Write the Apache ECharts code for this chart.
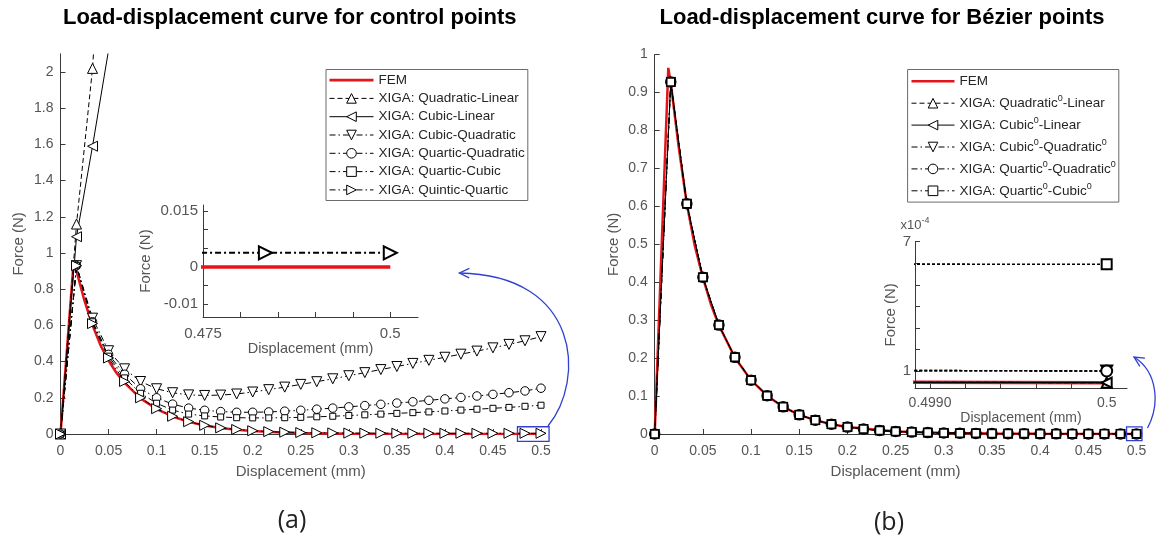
<!DOCTYPE html>
<html><head><meta charset="utf-8">
<script src="https://cdn.jsdelivr.net/npm/echarts@6/dist/echarts.min.js"></script>
<style>html,body{margin:0;padding:0;background:#fff}#c{width:1157px;height:545px}</style>
</head><body><div id="c"></div>
<script>
// ---------------- DATA ----------------
const xPts = [0, 0.01667, 0.03333, 0.05, 0.06667, 0.08333, 0.1, 0.11667, 0.13333, 0.15, 0.16667, 0.18333, 0.2, 0.21667, 0.23333, 0.25, 0.26667, 0.28333, 0.3, 0.31667, 0.33333, 0.35, 0.36667, 0.38333, 0.4, 0.41667, 0.43333, 0.45, 0.46667, 0.48333, 0.5];

// (a) control points
const femAX = [0, 0.0133, 0.0167, 0.025, 0.0333, 0.0417, 0.05, 0.0583, 0.0667, 0.0833, 0.1, 0.1167, 0.1333, 0.15, 0.1667, 0.1833, 0.2, 0.225, 0.25, 0.3, 0.35, 0.4, 0.45, 0.5];
const femAY = [0, 0.925, 0.9, 0.735, 0.6, 0.49, 0.405, 0.337, 0.282, 0.197, 0.138, 0.097, 0.067, 0.047, 0.033, 0.023, 0.016, 0.009, 0.005, 0.0015, 0.0005, 0.0001, 0, 0];
const quadLinA = [0, 1.16, 2.02, 3.4];
const cubicLinA = [0, 1.09, 1.59, 2.12];
const cubicQuadA = [0, 0.93, 0.64, 0.46, 0.36, 0.29, 0.25, 0.228, 0.216, 0.213, 0.215, 0.221, 0.232, 0.245, 0.259, 0.274, 0.289, 0.305, 0.322, 0.339, 0.356, 0.373, 0.39, 0.407, 0.424, 0.441, 0.458, 0.476, 0.495, 0.515, 0.538];
const quarticQuadA = [0, 0.93, 0.62, 0.44, 0.33, 0.25, 0.2, 0.165, 0.143, 0.131, 0.124, 0.12, 0.12, 0.122, 0.126, 0.131, 0.137, 0.143, 0.15, 0.157, 0.164, 0.171, 0.178, 0.186, 0.194, 0.202, 0.21, 0.219, 0.228, 0.238, 0.253];
const quarticCubicA = [0, 0.93, 0.62, 0.43, 0.31, 0.225, 0.17, 0.132, 0.11, 0.1, 0.094, 0.09, 0.089, 0.089, 0.09, 0.092, 0.095, 0.098, 0.102, 0.106, 0.11, 0.114, 0.118, 0.122, 0.127, 0.132, 0.137, 0.142, 0.147, 0.153, 0.159];
const quinticQuarticA = [0, 0.93, 0.61, 0.42, 0.29, 0.2, 0.14, 0.098, 0.068, 0.048, 0.034, 0.025, 0.018, 0.013, 0.01, 0.008, 0.0068, 0.0058, 0.0051, 0.0047, 0.0044, 0.0042, 0.0041, 0.004, 0.0039, 0.0039, 0.0038, 0.0038, 0.0038, 0.0038, 0.0038];

// (b) Bezier points
const femBX = [0, 0.0141, 0.0167, 0.025, 0.0333, 0.0417, 0.05, 0.0583, 0.0667, 0.0833, 0.1, 0.1167, 0.1333, 0.15, 0.1667, 0.1833, 0.2, 0.25, 0.3, 0.35, 0.4, 0.45, 0.5];
const femBY = [0, 0.965, 0.925, 0.755, 0.607, 0.495, 0.412, 0.342, 0.286, 0.201, 0.142, 0.101, 0.0712, 0.0505, 0.0365, 0.0258, 0.0182, 0.0069, 0.0027, 0.0011, 0.0004, 0.00015, 0.000046];
const quadLinB = [0, 0.928, 0.607, 0.413, 0.287, 0.202, 0.142, 0.101, 0.0715, 0.0505, 0.0365, 0.0258, 0.0182, 0.0132, 0.0095, 0.0069, 0.0051, 0.0037, 0.0027, 0.002, 0.0015, 0.0011, 0.0008, 0.0006, 0.00044, 0.00032, 0.00023, 0.00016, 0.00011, 0.00007, 0.000046];
const cubicLinB = [0, 0.928, 0.607, 0.413, 0.287, 0.202, 0.142, 0.101, 0.0715, 0.0505, 0.0365, 0.0258, 0.0182, 0.0132, 0.0095, 0.0069, 0.0051, 0.0037, 0.0027, 0.002, 0.0015, 0.0011, 0.0008, 0.0006, 0.00044, 0.00032, 0.00023, 0.00016, 0.00011, 0.00007, 0.000046];
const cubicQuadB = [0, 0.928, 0.607, 0.413, 0.287, 0.202, 0.142, 0.101, 0.0715, 0.0505, 0.0365, 0.0258, 0.0182, 0.0132, 0.0095, 0.0069, 0.0051, 0.0037, 0.0027, 0.002, 0.0015, 0.0011, 0.00083, 0.00063, 0.00049, 0.00038, 0.0003, 0.00023, 0.00017, 0.00013, 0.0001];
const quarticQuadB = [0, 0.928, 0.607, 0.413, 0.287, 0.202, 0.142, 0.101, 0.0715, 0.0505, 0.0365, 0.0258, 0.0182, 0.0132, 0.0095, 0.0069, 0.0051, 0.0037, 0.0027, 0.002, 0.0015, 0.0011, 0.00083, 0.00063, 0.00049, 0.00038, 0.0003, 0.00023, 0.00017, 0.00013, 0.0001];
const quarticCubicB = [0, 0.928, 0.607, 0.413, 0.287, 0.202, 0.142, 0.101, 0.0715, 0.0505, 0.0365, 0.0258, 0.0182, 0.0132, 0.0095, 0.0069, 0.0051, 0.0037, 0.0027, 0.0021, 0.0017, 0.0014, 0.0012, 0.00103, 0.0009, 0.0008, 0.00072, 0.00067, 0.00063, 0.00061, 0.000595];

// tick values
const mainXTicks = [0, 0.05, 0.1, 0.15, 0.2, 0.25, 0.3, 0.35, 0.4, 0.45, 0.5];
const aYTicks = [0, 0.2, 0.4, 0.6, 0.8, 1, 1.2, 1.4, 1.6, 1.8, 2];
const bYTicks = [0, 0.1, 0.2, 0.3, 0.4, 0.5, 0.6, 0.7, 0.8, 0.9, 1];
const insetAXTicks = [0.475, 0.48, 0.485, 0.49, 0.495, 0.5];
const insetAXLabels = [0.475, 0.5];
const insetAYTicks = [-0.01, -0.005, 0, 0.005, 0.01, 0.015];
const insetAYLabels = [-0.01, 0, 0.015];
const insetBXTicks = [0.499, 0.4992, 0.4994, 0.4996, 0.4998, 0.5];
const insetBXLabels = [0.499, 0.5];
const insetBYTicks = [0.0001, 0.0002, 0.0003, 0.0004, 0.0005, 0.0006, 0.0007];
const insetBYLabels = [0.0001, 0.0007];

// legend names
const namesA = ['FEM', 'XIGA: Quadratic-Linear', 'XIGA: Cubic-Linear', 'XIGA: Cubic-Quadratic', 'XIGA: Quartic-Quadratic', 'XIGA: Quartic-Cubic', 'XIGA: Quintic-Quartic'];
const namesB = ['FEM', 'XIGA: Quadratic^0-Linear', 'XIGA: Cubic^0-Linear', 'XIGA: Cubic^0-Quadratic^0', 'XIGA: Quartic^0-Quadratic^0', 'XIGA: Quartic^0-Cubic^0'];

// annotation anchors (data space of the main grids)
const boxA = [[0.4755, 0.04], [0.5084, -0.041]];
const arrowA = [[0.5073, 0.0442], [0.5464, 0.2983], [0.5411, 0.8785], [0.4151, 0.8895]];
const boxB = [[0.4897, 0.019], [0.5057, -0.0177]];
const arrowB = [[0.5114, 0.0158], [0.5244, 0.0764], [0.5223, 0.1634], [0.4974, 0.2030]];

// ---------------- STYLE ----------------
const F = '"Liberation Sans", Arial, sans-serif';
const AX = '#3a3a3a';
const LBL = '#555';
const RED = '#e3151a';
const BLUE = '#3040d0';
const DASH = [5, 3];
const DASHDOT = [6, 3, 1.5, 3];

const pairs = (xs, ys) => ys.map((y, i) => [xs[i], y]);

function axis(o) {
  return {
    type: 'value', gridIndex: o.grid, min: o.min, max: o.max,
    axisLine: { show: true, onZero: false, lineStyle: { color: AX, width: 1 } },
    axisTick: { show: true, inside: true, length: o.tickLen || 5, customValues: o.ticks, lineStyle: { color: AX } },
    axisLabel: { customValues: o.labels || o.ticks, color: LBL, fontSize: o.fs || 14, fontFamily: F, margin: o.margin || 7, formatter: o.fmt },
    splitLine: { show: false },
    name: o.name, nameLocation: 'middle', nameGap: o.nameGap,
    nameTextStyle: { color: LBL, fontSize: o.nfs || 15, fontFamily: F }
  };
}

function lineSeries(name, xi, data, sym, rot, size, lineType, opts) {
  opts = opts || {};
  return {
    type: 'line', name, xAxisIndex: xi, yAxisIndex: xi, data,
    symbol: sym, symbolSize: size, symbolRotate: rot, showAllSymbol: true,
    lineStyle: { color: '#000', width: opts.lw || 1, type: lineType },
    itemStyle: { color: '#fff', borderColor: '#000', borderWidth: opts.bw || 1 },
    emphasis: { disabled: true }, silent: true, z: opts.z || 3, clip: true
  };
}
function femSeries(name, xi, data, w) {
  return {
    type: 'line', name, xAxisIndex: xi, yAxisIndex: xi, data, symbol: 'none',
    lineStyle: { color: RED, width: w }, itemStyle: { color: RED },
    emphasis: { disabled: true }, silent: true, z: 2, clip: true
  };
}

const femIcon = 'path://M0 0H44V2.6H0Z';

const legendBase = {
  orient: 'vertical', itemWidth: 44, itemHeight: 12, selectedMode: false,
  borderColor: '#6a6a6a', borderWidth: 1, backgroundColor: '#fff',
  itemStyle: { borderWidth: 1 },
  lineStyle: { width: 1 }
};

const option = {
  animation: false,
  backgroundColor: '#fff',
  grid: [
    { left: 60.5, top: 53.9, width: 480.5, height: 380.1, containLabel: false, outerBoundsMode: 'none' },
    { left: 203, top: 205, width: 215, height: 112, containLabel: false, outerBoundsMode: 'none' },
    { left: 654.7, top: 54.6, width: 481.8, height: 379.4, containLabel: false, outerBoundsMode: 'none' },
    { left: 915, top: 241.7, width: 212, height: 146.3, containLabel: false, outerBoundsMode: 'none' }
  ],
  xAxis: [
    axis({ grid: 0, min: 0, max: 0.5, ticks: mainXTicks, name: 'Displacement (mm)', nameGap: 30, margin: 10 }),
    axis({ grid: 1, min: 0.475, max: 0.5037, ticks: insetAXTicks, labels: insetAXLabels, name: 'Displacement (mm)', nameGap: 6, margin: 9, fs: 15, nfs: 14.5 }),
    axis({ grid: 2, min: 0, max: 0.5, ticks: mainXTicks, name: 'Displacement (mm)', nameGap: 30, margin: 10 }),
    axis({ grid: 3, min: 0.498915, max: 0.500115, ticks: insetBXTicks, labels: insetBXLabels, name: 'Displacement (mm)', nameGap: 8, margin: 8, fs: 14, nfs: 14,
      fmt: v => Math.abs(v - 0.499) < 1e-9 ? '0.4990' : String(Math.round(v * 10000) / 10000) })
  ],
  yAxis: [
    axis({ grid: 0, min: 0, max: 2.1, ticks: aYTicks, name: 'Force (N)', nameGap: 34 }),
    axis({ grid: 1, min: -0.0134, max: 0.0166, ticks: insetAYTicks, labels: insetAYLabels, name: 'Force (N)', nameGap: 50, margin: 5, fs: 15 }),
    axis({ grid: 2, min: 0, max: 1, ticks: bYTicks, name: 'Force (N)', nameGap: 33 }),
    axis({ grid: 3, min: 0.0000211, max: 0.0007, ticks: insetBYTicks, labels: insetBYLabels, name: 'Force (N)', nameGap: 6, margin: 4, fs: 15,
      fmt: v => String(Math.round(v * 10000)) })
  ],
  legend: [
    Object.assign({}, legendBase, {
      left: 326, top: 69.5, padding: [3.6, 3, 3.6, 3], itemGap: 4.3,
      textStyle: { fontSize: 13.5, lineHeight: 14, color: '#262626', fontFamily: F },
      data: [{ name: 'FEM', icon: femIcon, itemStyle: { color: RED } }].concat(namesA.slice(1))
    }),
    Object.assign({}, legendBase, {
      left: 907.6, top: 69.5, padding: [2.8, 3, 2.3, 3.4], itemGap: 3.9, itemWidth: 43,
      textStyle: { fontSize: 13.5, lineHeight: 18, color: '#262626', fontFamily: F,
        rich: { s: { fontSize: 9, lineHeight: 8, verticalAlign: 'top', color: '#262626', fontFamily: F } } },
      formatter: n => n.replace(/\^0/g, '{s|0}'),
      data: [{ name: 'FEM', icon: femIcon, itemStyle: { color: RED } }].concat(namesB.slice(1))
    })
  ],
  series: [
    // (a) main
    femSeries('FEM', 0, pairs(femAX, femAY), 2.5),
    lineSeries(namesA[1], 0, pairs(xPts, quadLinA), 'triangle', 0, 10, DASH),
    lineSeries(namesA[2], 0, pairs(xPts, cubicLinA), 'triangle', 90, 10, 'solid'),
    lineSeries(namesA[3], 0, pairs(xPts, cubicQuadA), 'triangle', 180, 10, DASHDOT),
    lineSeries(namesA[4], 0, pairs(xPts, quarticQuadA), 'circle', 0, 8.5, DASHDOT),
    lineSeries(namesA[5], 0, pairs(xPts, quarticCubicA), 'rect', 0, 6, DASHDOT),
    lineSeries(namesA[6], 0, pairs(xPts, quinticQuarticA), 'triangle', -90, 10, DASHDOT),
    // (a) inset
    femSeries('insetA FEM', 1, pairs(femAX, femAY), 3.5),
    lineSeries('insetA quintic', 1, pairs(xPts, quinticQuarticA), 'triangle', -90, 13, [6, 3, 2, 3], { lw: 2, bw: 2 }),
    // (b) main
    femSeries('FEM', 2, pairs(femBX, femBY), 2.5),
    lineSeries(namesB[1], 2, pairs(xPts, quadLinB), 'triangle', 0, 9, DASH),
    lineSeries(namesB[2], 2, pairs(xPts, cubicLinB), 'triangle', 90, 9, 'solid'),
    lineSeries(namesB[3], 2, pairs(xPts, cubicQuadB), 'triangle', 180, 9, DASHDOT),
    lineSeries(namesB[4], 2, pairs(xPts, quarticQuadB), 'circle', 0, 10, DASHDOT, { bw: 1.5 }),
    lineSeries(namesB[5], 2, pairs(xPts, quarticCubicB), 'rect', 0, 8, DASHDOT, { bw: 1.5 }),
    // (b) inset
    femSeries('insetB FEM', 3, pairs(femBX, femBY), 3.5),
    lineSeries('insetB ql', 3, pairs(xPts, quadLinB), 'triangle', 0, 10, DASH, { lw: 1.2, bw: 2 }),
    lineSeries('insetB cl', 3, pairs(xPts, cubicLinB), 'triangle', 90, 10, 'solid', { lw: 1.2, bw: 2 }),
    lineSeries('insetB cq', 3, pairs(xPts, cubicQuadB), 'triangle', 180, 11, [3, 2], { lw: 1.6, bw: 2 }),
    lineSeries('insetB qq', 3, pairs(xPts, quarticQuadB), 'circle', 0, 11, [3, 2], { lw: 1.6, bw: 2 }),
    lineSeries('insetB qc', 3, pairs(xPts, quarticCubicB), 'rect', 0, 10, [3, 2], { lw: 1.6, bw: 2 })
  ]
};

const chart = echarts.init(document.getElementById('c'), null, { renderer: 'canvas' });
chart.setOption(option);

// ---------------- annotations (positioned through the axes) ----------------
function px(gi, p) { return chart.convertToPixel({ xAxisIndex: gi, yAxisIndex: gi }, p); }
function annot(gi, box, arr) {
  const a = px(gi, box[0]), b = px(gi, box[1]);
  const P = arr.map(p => px(gi, p));
  const end = P[3], c2 = P[2];
  const ang = Math.atan2(end[1] - c2[1], end[0] - c2[0]);
  const L = 11, sp = 0.45;
  const h1 = [end[0] - L * Math.cos(ang - sp), end[1] - L * Math.sin(ang - sp)];
  const h2 = [end[0] - L * Math.cos(ang + sp), end[1] - L * Math.sin(ang + sp)];
  return [
    { type: 'rect', z: 50, shape: { x: Math.min(a[0], b[0]), y: Math.min(a[1], b[1]), width: Math.abs(b[0] - a[0]), height: Math.abs(b[1] - a[1]) },
      style: { fill: 'none', stroke: BLUE, lineWidth: 1.3 } },
    { type: 'bezierCurve', z: 50, shape: { x1: P[0][0], y1: P[0][1], cpx1: P[1][0], cpy1: P[1][1], cpx2: P[2][0], cpy2: P[2][1], x2: end[0], y2: end[1] },
      style: { fill: 'none', stroke: BLUE, lineWidth: 1.3 } },
    { type: 'polyline', z: 50, shape: { points: [h1, end, h2] }, style: { fill: 'none', stroke: BLUE, lineWidth: 1.3 } }
  ];
}
const txt = (x, y, text, size, weight, color, family) => ({
  type: 'text', x, y, z: 60,
  style: { text, fontSize: size, fontWeight: weight, fill: color, fontFamily: family || F, align: 'center', verticalAlign: 'middle' }
});
chart.setOption({
  graphic: [].concat(
    annot(0, boxA, arrowA),
    annot(2, boxB, arrowB),
    [
      txt(289.7, 18, 'Load-displacement curve for control points', 22, 'bold', '#000'),
      txt(882, 18, 'Load-displacement curve for Bézier points', 22, 'bold', '#000'),
      txt(292, 521, '(a)', 25, 'normal', '#222', '"Open Sans", "Noto Sans", sans-serif'),
      txt(889, 523, '(b)', 25, 'normal', '#222', '"Open Sans", "Noto Sans", sans-serif'),
      { type: 'text', x: 915, y: 225, z: 60,
        style: { text: '{a|x10}{b|-4}', align: 'center', verticalAlign: 'middle',
          rich: { a: { fontSize: 13, lineHeight: 17, fill: LBL, fontFamily: F },
                  b: { fontSize: 9, lineHeight: 8, verticalAlign: 'top', fill: LBL, fontFamily: F } } } }
    ]
  )
});
</script></body></html>
